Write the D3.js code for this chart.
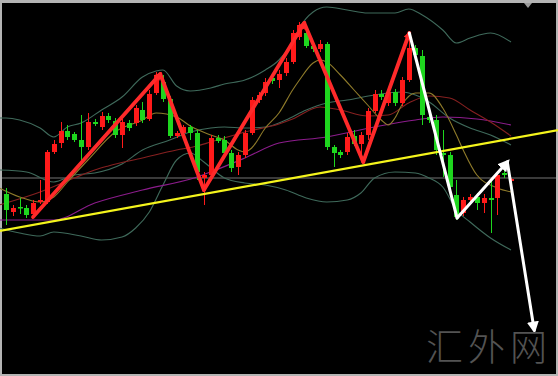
<!DOCTYPE html>
<html>
<head>
<meta charset="utf-8">
<script src="https://cdn.jsdelivr.net/npm/d3@7"></script>
<style>
  body { margin: 0; background: #fff; }
  svg { display: block; }
</style>
</head>
<body>
<script>
const width = 558, height = 376;

// candles (price points)
const opens  = [206,188,193,192,186,198,198,248,257,269, 266,260,253,278,273,284,279,265,277,277,
                290,281,307,318,301,264,267,273,267,222, 225,262,260,247,233,245,267,300,307,322,
                320,327,338,363,367,354,351,356,253,248, 248,264,256,265,289,306,297,308,297,320,
                352,344,283,280,247,245,205,187,200,203, 197,202,202,227,219];
const closes = [190,192,192,185,197,200,248,256,269,263, 260,253,278,276,284,280,265,278,272,292,
                280,306,325,301,264,267,273,267,228,225, 262,259,247,232,245,267,300,305,318,319,
                326,338,367,375,354,351,356,253,247,245, 263,256,265,289,306,303,308,297,320,352,
                345,285,280,250,245,213,183,200,203,197, 202,200,225,225,221];
const highs  = [212,195,202,195,200,220,250,260,278,275, 268,285,287,281,288,287,282,281,280,295,
                298,310,328,325,304,269,275,275,270,228, 265,265,264,250,248,270,303,308,322,325,
                330,342,370,378,372,356,360,358,255,250, 267,270,268,292,310,310,312,311,323,367,
                355,350,286,285,270,248,220,203,206,207, 206,220,228,235,222];
const lows   = [175,184,186,182,182,196,196,246,252,260, 258,240,250,274,270,277,262,252,269,274,
                277,279,305,298,262,262,265,260,220,195, 223,257,244,228,225,242,265,297,304,316,
                312,324,336,360,352,348,348,250,233,242, 245,254,240,260,287,300,294,294,294,318,
                340,275,277,245,223,208,180,184,197,190, 187,167,185,222,218];

// indicator lines: [bar index, price]
const bollUpper = [[-1,282],[0,282],[2,280],[5,272],[7,263],[9,273],[11,277],[14,290],[17,303],[20,323],
  [22,329],[23,330],[25,314],[27,309],[30,312],[32,316],[35,320],[38,330],[40,340],[42,358],[43,372],
  [45,388],[47,393],[50,390],[53,387],[57,387],[59,391],[61,385],[64,370],[66,357],[68,362],[71,367],[74,358]];
const bollMid = [[-1,230],[3,228],[7,218],[10,225],[13,227],[17,236],[20,250],[24,260],[27,268],[30,272],
  [32,273],[35,272],[38,273],[41,280],[44,290],[47,297],[50,300],[54,305],[58,308],[60,305],[62,298],
  [65,282],[68,272],[71,265],[74,255]];
const bollLower = [[-1,172],[2,167],[5,164],[7,168],[11,164],[14,160],[17,163],[19,172],[21,188],[23,215],
  [25,240],[27,247],[29,238],[32,222],[35,217],[38,215],[41,210],[44,202],[47,198],[50,200],[52,207],
  [54,222],[57,228],[60,227],[62,222],[64,213],[66,190],[68,178],[71,162],[74,150]];
const maFast = [[-1,212],[2,203],[5,198],[7,203],[9,218],[12,240],[16,268],[20,280],[22,287],[25,283],
  [27,274],[30,265],[32,260],[34,250],[35,248],[36,252],[38,272],[40,287],[42,310],[43,320],[45,337],
  [46,340],[47,338],[49,325],[51,310],[53,295],[55,280],[56,275],[57,282],[58,295],[60,307],[62,307],
  [64,292],[66,265],[67,250],[69,225],[72,212],[74,208]];
const maMid = [[-1,195],[0,197],[5,208],[10,222],[13,230],[15,234],[20,242],[25,250],[28,254],[30,258],
  [35,268],[40,276],[42,281],[46,293],[49,290],[53,284],[56,285],[59,297],[62,304],[65,302],[68,290],
  [71,278],[74,264]];
const maSlow = [[-1,180],[7,180],[13,197],[20,210],[28,223],[30,228],[35,242],[40,257],[47,263],[54,273],
  [60,280],[64,283],[69,281],[74,275]];

const lastPrice = 222;
const trendLine = [[-1,169],[81,270]];
const redZigzag = [[3.96,183],[22.6,326],[29,210],[43.7,377],[52.35,238],[59.1,367]];
const whiteZigzag = [[59.1,367],[66.1,182],[73.46,238],[77.4,70]];

const svg = d3.select("body").append("svg")
    .attr("width", width)
    .attr("height", height);

// frame
svg.append("rect").attr("width", width).attr("height", height).attr("fill", "#b4b4b4");
svg.append("rect").attr("x", 2).attr("y", 3).attr("width", 554).attr("height", 371).attr("fill", "#000");
svg.append("path").attr("d", "M524,3L532,3L528,8Z").attr("fill", "#9a9a9a");

const x = d3.scaleLinear().domain([0, 74]).range([6, 511]);
const y = d3.scaleLinear().domain([24, 400]).range([376, 0]);

const chart = svg.append("g");

const defs = svg.append("defs");
function marker(id, color, size) {
  defs.append("marker")
      .attr("id", id)
      .attr("viewBox", "0 0 10 10")
      .attr("refX", 7).attr("refY", 5)
      .attr("markerUnits", "userSpaceOnUse")
      .attr("markerWidth", size).attr("markerHeight", size)
      .attr("orient", "auto")
    .append("path")
      .attr("d", "M0,0L10,5L0,10Z")
      .attr("fill", color);
}
marker("arrRed", "#ff2a2a", 8);
marker("arrWhite", "#ffffff", 12);

// current price line
chart.append("line")
    .attr("x1", 2).attr("x2", 556)
    .attr("y1", y(lastPrice)).attr("y2", y(lastPrice))
    .attr("stroke", "#747474").attr("stroke-width", 1);

const line = d3.line()
    .x(d => x(d[0]))
    .y(d => y(d[1]))
    .curve(d3.curveMonotoneX);

const indicators = [
  {data: bollUpper, color: "#3f6a5b"},
  {data: bollMid,   color: "#3f6a5b"},
  {data: bollLower, color: "#3f6a5b"},
  {data: maSlow,    color: "#8c1c8c"},
  {data: maMid,     color: "#862020"},
  {data: maFast,    color: "#8f7b2a"}
];
chart.selectAll(".ind")
  .data(indicators)
  .enter().append("path")
    .attr("class", "ind")
    .attr("d", d => line(d.data))
    .attr("fill", "none")
    .attr("stroke", d => d.color)
    .attr("stroke-width", 1.1);

// candles
const candles = opens.map((o, i) => ({i: i, o: o, c: closes[i], h: highs[i], l: lows[i]}));
const color = d => d.c >= d.o ? "#ff1a1a" : "#1ed61e";

const candle = chart.selectAll(".candle")
  .data(candles)
  .enter().append("g")
    .attr("class", "candle");

candle.append("line")
    .attr("x1", d => Math.round(x(d.i)) + 0.5)
    .attr("x2", d => Math.round(x(d.i)) + 0.5)
    .attr("y1", d => y(d.h))
    .attr("y2", d => y(d.l))
    .attr("stroke", color);

candle.append("rect")
    .attr("x", d => Math.round(x(d.i)) - 2)
    .attr("width", 5)
    .attr("y", d => y(Math.max(d.o, d.c)))
    .attr("height", d => Math.max(1.5, Math.abs(y(d.o) - y(d.c))))
    .attr("fill", color);

// yellow trend line
chart.append("path")
    .attr("d", d3.line().x(d => x(d[0])).y(d => y(d[1]))(trendLine))
    .attr("stroke", "#f4f41c")
    .attr("stroke-width", 2.2)
    .attr("fill", "none");

// zigzag legs
function legs(points) {
  return d3.pairs(points);
}

chart.selectAll(".red-leg")
  .data(legs(redZigzag))
  .enter().append("line")
    .attr("class", "red-leg")
    .attr("x1", d => x(d[0][0])).attr("y1", d => y(d[0][1]))
    .attr("x2", d => x(d[1][0])).attr("y2", d => y(d[1][1]))
    .attr("stroke", "#ff2a2a")
    .attr("stroke-width", 3.8)
    .attr("stroke-linecap", "round")
    .attr("marker-end", d => d[1][1] > d[0][1] ? "url(#arrRed)" : null);

chart.selectAll(".white-leg")
  .data(legs(whiteZigzag))
  .enter().append("line")
    .attr("class", "white-leg")
    .attr("x1", d => x(d[0][0])).attr("y1", d => y(d[0][1]))
    .attr("x2", d => x(d[1][0])).attr("y2", d => y(d[1][1]))
    .attr("stroke", "#ffffff")
    .attr("stroke-width", 3)
    .attr("stroke-linecap", "round")
    .attr("marker-end", (d, i) => i > 0 ? "url(#arrWhite)" : null);

// watermark
svg.append("text")
    .attr("x", 426)
    .attr("y", 361)
    .attr("font-family", "'Noto Sans CJK SC', sans-serif")
    .attr("font-size", 37)
    .attr("font-weight", 300)
    .attr("letter-spacing", 5)
    .attr("fill", "#535353")
    .text("汇外网");
</script>
</body>
</html>
